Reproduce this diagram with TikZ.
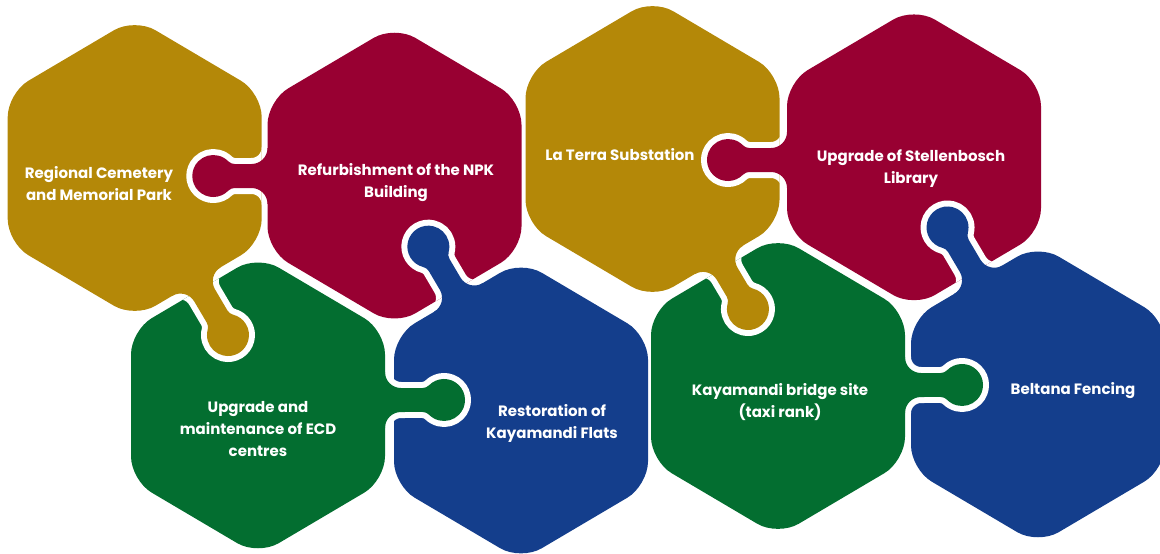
\documentclass[tikz,border=0pt]{standalone}
\usepackage{fontspec}
\setmainfont{Poppins}
\definecolor{pgold}{RGB}{180,136,8}
\definecolor{pred}{RGB}{152,0,50}
\definecolor{pgreen}{RGB}{3,110,48}
\definecolor{pblue}{RGB}{20,62,140}
\newcommand\hexat[2]{(#1-127,#2) -- (#1-127,#2-75) -- (#1,#2-150) -- (#1+127,#2-75) -- (#1+127,#2+75) -- (#1,#2+150) -- (#1-127,#2+75) -- cycle}
\newcommand\tabpath[1]{(-12,-28) -- (0,-28) arc[start angle=180,end angle=90,radius=16] -- ({#1-21.42},-12) arc[start angle=90,end angle=44.4,radius=9] arc[start angle=224.4,end angle=495.6,radius=21] arc[start angle=-44.4,end angle=-90,radius=9] -- (16,12) arc[start angle=270,end angle=180,radius=16] -- (-12,28) -- cycle}
\begin{document}
\begin{tikzpicture}[x=1pt,y=-1pt,
  hexa/.style={rounded corners=24pt},
  tabline/.style={white,line width=12pt,line join=round},
  lbl/.style={text=white,font=\fontsize{15}{22}\selectfont\bfseries,align=center,inner sep=0pt}]
\useasboundingbox (0,0) rectangle (1160,554);
\clip (0,0) rectangle (1160,554);
% hexagon bodies
\fill[pgold,hexa] \hexat{134.7}{168};
\fill[pred,hexa] \hexat{394.5}{175.6};
\fill[pgold,hexa] \hexat{652.5}{149};
\fill[pred,hexa] \hexat{914}{157.3};
\fill[pgreen,hexa] \hexat{258}{405.4};
\fill[pblue,hexa] \hexat{521}{410.5};
\fill[pgreen,hexa] \hexat{778}{386};
\fill[pblue,hexa] \hexat{1038}{394.4};
% tab 1: red1 into gold1
\begin{scope}\clip[hexa] \hexat{134.7}{168};
\draw[tabline,shift={(267.5,176)},rotate=180] \tabpath{54.2};\end{scope}
\fill[pred,shift={(267.5,176)},rotate=180] \tabpath{54.2};
% tab 2: gold1 into green1
\begin{scope}\clip[hexa] \hexat{258}{405.4};
\draw[tabline,shift={(196.5,281.6)},rotate=-59.5] \tabpath{62};\end{scope}
\fill[pgold,shift={(196.5,281.6)},rotate=-59.5] \tabpath{62};
% tab 3: blue1 into red1
\begin{scope}\clip[hexa] \hexat{394.5}{175.6};
\draw[tabline,shift={(458.3,297.5)},rotate=120.5] \tabpath{59};\end{scope}
\fill[pblue,shift={(458.3,297.5)},rotate=120.5] \tabpath{59};
% tab 4: green1 into blue1
\begin{scope}\clip[hexa] \hexat{521}{410.5};
\draw[tabline,shift={(385,400)},rotate=0] \tabpath{59};\end{scope}
\fill[pgreen,shift={(385,400)},rotate=0] \tabpath{59};
% tab 5: red2 into gold2
\begin{scope}\clip[hexa] \hexat{652.5}{149};
\draw[tabline,shift={(787,160)},rotate=180] \tabpath{59};\end{scope}
\fill[pred,shift={(787,160)},rotate=180] \tabpath{59};
% tab 6: gold2 into green2
\begin{scope}\clip[hexa] \hexat{778}{386};
\draw[tabline,shift={(719,259.9)},rotate=-59.5] \tabpath{57};\end{scope}
\fill[pgold,shift={(719,259.9)},rotate=-59.5] \tabpath{57};
% tab 7: blue2 into red2
\begin{scope}\clip[hexa] \hexat{914}{157.3};
\draw[tabline,shift={(978.3,279.7)},rotate=120.5] \tabpath{60.6};\end{scope}
\fill[pblue,shift={(978.3,279.7)},rotate=120.5] \tabpath{60.6};
% tab 8: green2 into blue2
\begin{scope}\clip[hexa] \hexat{1038}{394.4};
\draw[tabline,shift={(905,385)},rotate=0] \tabpath{57};\end{scope}
\fill[pgreen,shift={(905,385)},rotate=0] \tabpath{57};
% labels
\node[lbl] (t1) at (99,184) {Regional Cemetery\\and Memorial Park};
\node[lbl] (t2) at (396,183) {Refurbishment of the NPK\\Building};
\node[lbl] (t3) at (620,155) {La Terra Substation};
\node[lbl] (t4) at (911,168.5) {Upgrade of Stellenbosch\\Library};
\node[lbl] (t5) at (258,429) {Upgrade and\\maintenance of ECD\\centres};
\node[lbl] (t6) at (552,423.5) {Restoration of\\Kayamandi Flats};
\node[lbl] (t7) at (780,402) {Kayamandi bridge site\\(taxi rank)};
\node[lbl] (t8) at (1073,391) {Beltana Fencing};
\end{tikzpicture}
\end{document}
